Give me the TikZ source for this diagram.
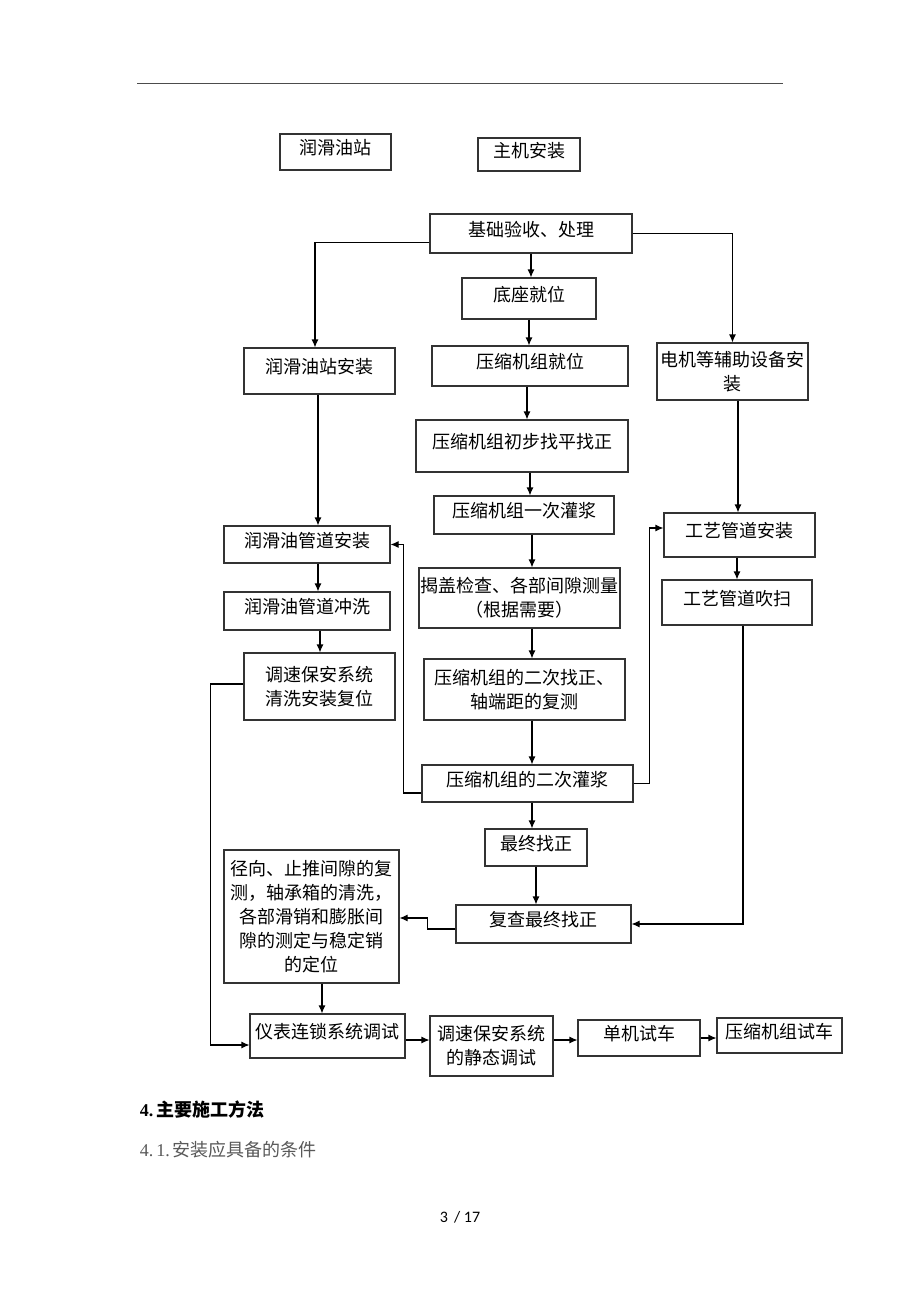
\documentclass[tikz,border=0pt]{standalone}
\usepackage{fontspec}
\setmainfont{Liberation Serif}
\newfontfamily\cjk{Noto Sans CJK SC}
\newfontfamily\pagefont{Carlito}
\usetikzlibrary{
        arrows.meta,
        calc,
        positioning
    }
\tikzset{>={Latex[length=8pt,width=7pt]}}
\tikzset{box/.style={draw=black!80,rectangle,inner sep=1pt,align=center,font=\cjk\fontsize{18}{24}\selectfont}}
\tikzset{onel/.style={box,text height=13pt,text depth=8pt}}
\tikzset{sz/.style 2 args={minimum width=#1pt,minimum height=#2pt}}

\begin{document}
\begin{tikzpicture}[x=1pt,y=-1pt,line width=1.1pt]
            \useasboundingbox (0,0) rectangle (920,1302);
            \fill[white] (0,0) rectangle (920,1302);
            \draw[black!70,line width=1pt] (137,83) -- (783,83);
            % top
            \node[onel,sz={111}{36}] (t0) at (335.5,152)   {润滑油站};
            \node[onel,sz={102}{33}] (t1) at (529,154.5)   {主机安装};
            % main column
            \node[onel,sz={202}{39}] (m0) at (531,233.5)   {基础验收、处理};
            \node[onel,sz={134}{41}] (m1) at (529,298.5)   {底座就位};
            \node[onel,sz={196}{40}] (m2) at (530,366)     {压缩机组就位};
            \node[onel,sz={212}{52}] (m3) at (522,446)     {压缩机组初步找平找正};
            \node[onel,sz={180}{38}] (m4) at (524,515)     {压缩机组一次灌浆};
            \node[box,sz={201}{60}]  (m5) at (519.5,598)   {揭盖检查、各部间隙测量\\（根据需要）};
            \node[box,sz={201}{61}]  (m6) at (524.5,689.5) {压缩机组的二次找正、\\轴端距的复测};
            \node[onel,sz={211}{37}] (m7) at (527.5,783.5) {压缩机组的二次灌浆};
            \node[onel,sz={102}{37}] (m8) at (536,847.5)   {最终找正};
            \node[onel,sz={175}{38}] (m9) at (543.5,924)   {复查最终找正};
            % left column
            \node[onel,sz={151}{46}] (l0) at (319.5,371)   {润滑油站安装};
            \node[onel,sz={166}{37}] (l1) at (307,544.5)   {润滑油管道安装};
            \node[onel,sz={166}{38}] (l2) at (307,611)     {润滑油管道冲洗};
            \node[box,sz={151}{67}]  (l3) at (319.5,686.5) {调速保安系统\\清洗安装复位};
            \node[box,sz={175}{133}] (l4) at (311.5,916.5) {径向、止推间隙的复\\测，轴承箱的清洗，\\各部滑销和膨胀间\\隙的测定与稳定销\\的定位};
            % right column
            \node[box,sz={151}{57}]  (r0) at (732.5,371.5) {电机等辅助设备安\\装};
            \node[onel,sz={151}{44}] (r1) at (739.5,535)   {工艺管道安装};
            \node[onel,sz={150}{45}] (r2) at (737,602.5)   {工艺管道吹扫};
            % bottom row
            \node[onel,sz={155}{44}] (b0) at (327.5,1036)  {仪表连锁系统调试};
            \node[box,sz={123}{60}]  (b1) at (491.5,1046)  {调速保安系统\\的静态调试};
            \node[onel,sz={122}{36}] (b2) at (639,1038)    {单机试车};
            \node[onel,sz={125}{35}] (b3) at (779.5,1035.5) {压缩机组试车};
            \path[->]
                (m0.south) edge (m0.south |- m1.north)
                (m1.south) edge (m1.south |- m2.north)
                ([xshift=-3pt]m2.south) edge ([xshift=-3pt]m2.south |- m3.north)
                ([xshift=8pt]m3.south) edge ([xshift=8pt]m3.south |- m4.north)
                ([xshift=8pt]m4.south) edge ([xshift=8pt]m4.south |- m5.north)
                ([xshift=12.5pt]m5.south) edge ([xshift=12.5pt]m5.south |- m6.north)
                ([xshift=7.5pt]m6.south) edge ([xshift=7.5pt]m6.south |- m7.north)
                ([xshift=4.5pt]m7.south) edge ([xshift=4.5pt]m7.south |- m8.north)
                (m8.south) edge (m8.south |- m9.north)
                ([xshift=-1.5pt]l0.south) edge ([xshift=-1.5pt]l0.south |- l1.north)
                ([xshift=11pt]l1.south) edge ([xshift=11pt]l1.south |- l2.north)
                ([xshift=13pt]l2.south) edge ([xshift=13pt]l2.south |- l3.north)
                ([xshift=10.5pt]l4.south) edge ([xshift=10.5pt]l4.south |- b0.north)
                ([xshift=5.5pt]r0.south) edge ([xshift=5.5pt]r0.south |- r1.north)
                ([xshift=-2.5pt]r1.south) edge ([xshift=-2.5pt]r1.south |- r2.north)
                ([yshift=-4pt]b0.east) edge ([yshift=-4pt]b0.east -| b1.west)
                ([yshift=6pt]b1.east) edge ([yshift=6pt]b1.east -| b2.west)
                (b2.east) edge (b2.east -| b3.west)
            ;
            \draw[->] ([yshift=-9pt]m0.west) -| ([xshift=-4.5pt]l0.north);
            \draw[->] (m0.east) -| (r0.north);
            \draw[->] ([yshift=-9.5pt]m7.west) -- ++(-18pt,0) |- (l1.east);
            \draw[->] (m7.east) -- ++(16pt,0) |- ([yshift=7pt]r1.west);
            \draw[->] ([xshift=6pt]r2.south) |- (m9.east);
            \draw[->] ([yshift=-5pt]m9.west) -- ++(-28pt,0) |- ([yshift=-1.5pt]l4.east);
            \draw[->] ([yshift=2.5pt]l3.west) -- ++(-33pt,0) |- ([yshift=-9pt]b0.west);
            % text below
            \node[anchor=west,font=\bfseries\fontsize{18}{20}\selectfont] (h0) at (136,1110) {4.\,{\cjk 主要施工方法}};
            \node[anchor=west,text=black!65,font=\fontsize{18}{20}\selectfont] (h1) at (136,1150) {4.\,1.\,{\cjk 安装应具备的条件}};
            \node[font=\pagefont\fontsize{16}{18}\selectfont] (pg) at (460,1217) {3 \,/ 17};
        \end{tikzpicture}
\end{document}
